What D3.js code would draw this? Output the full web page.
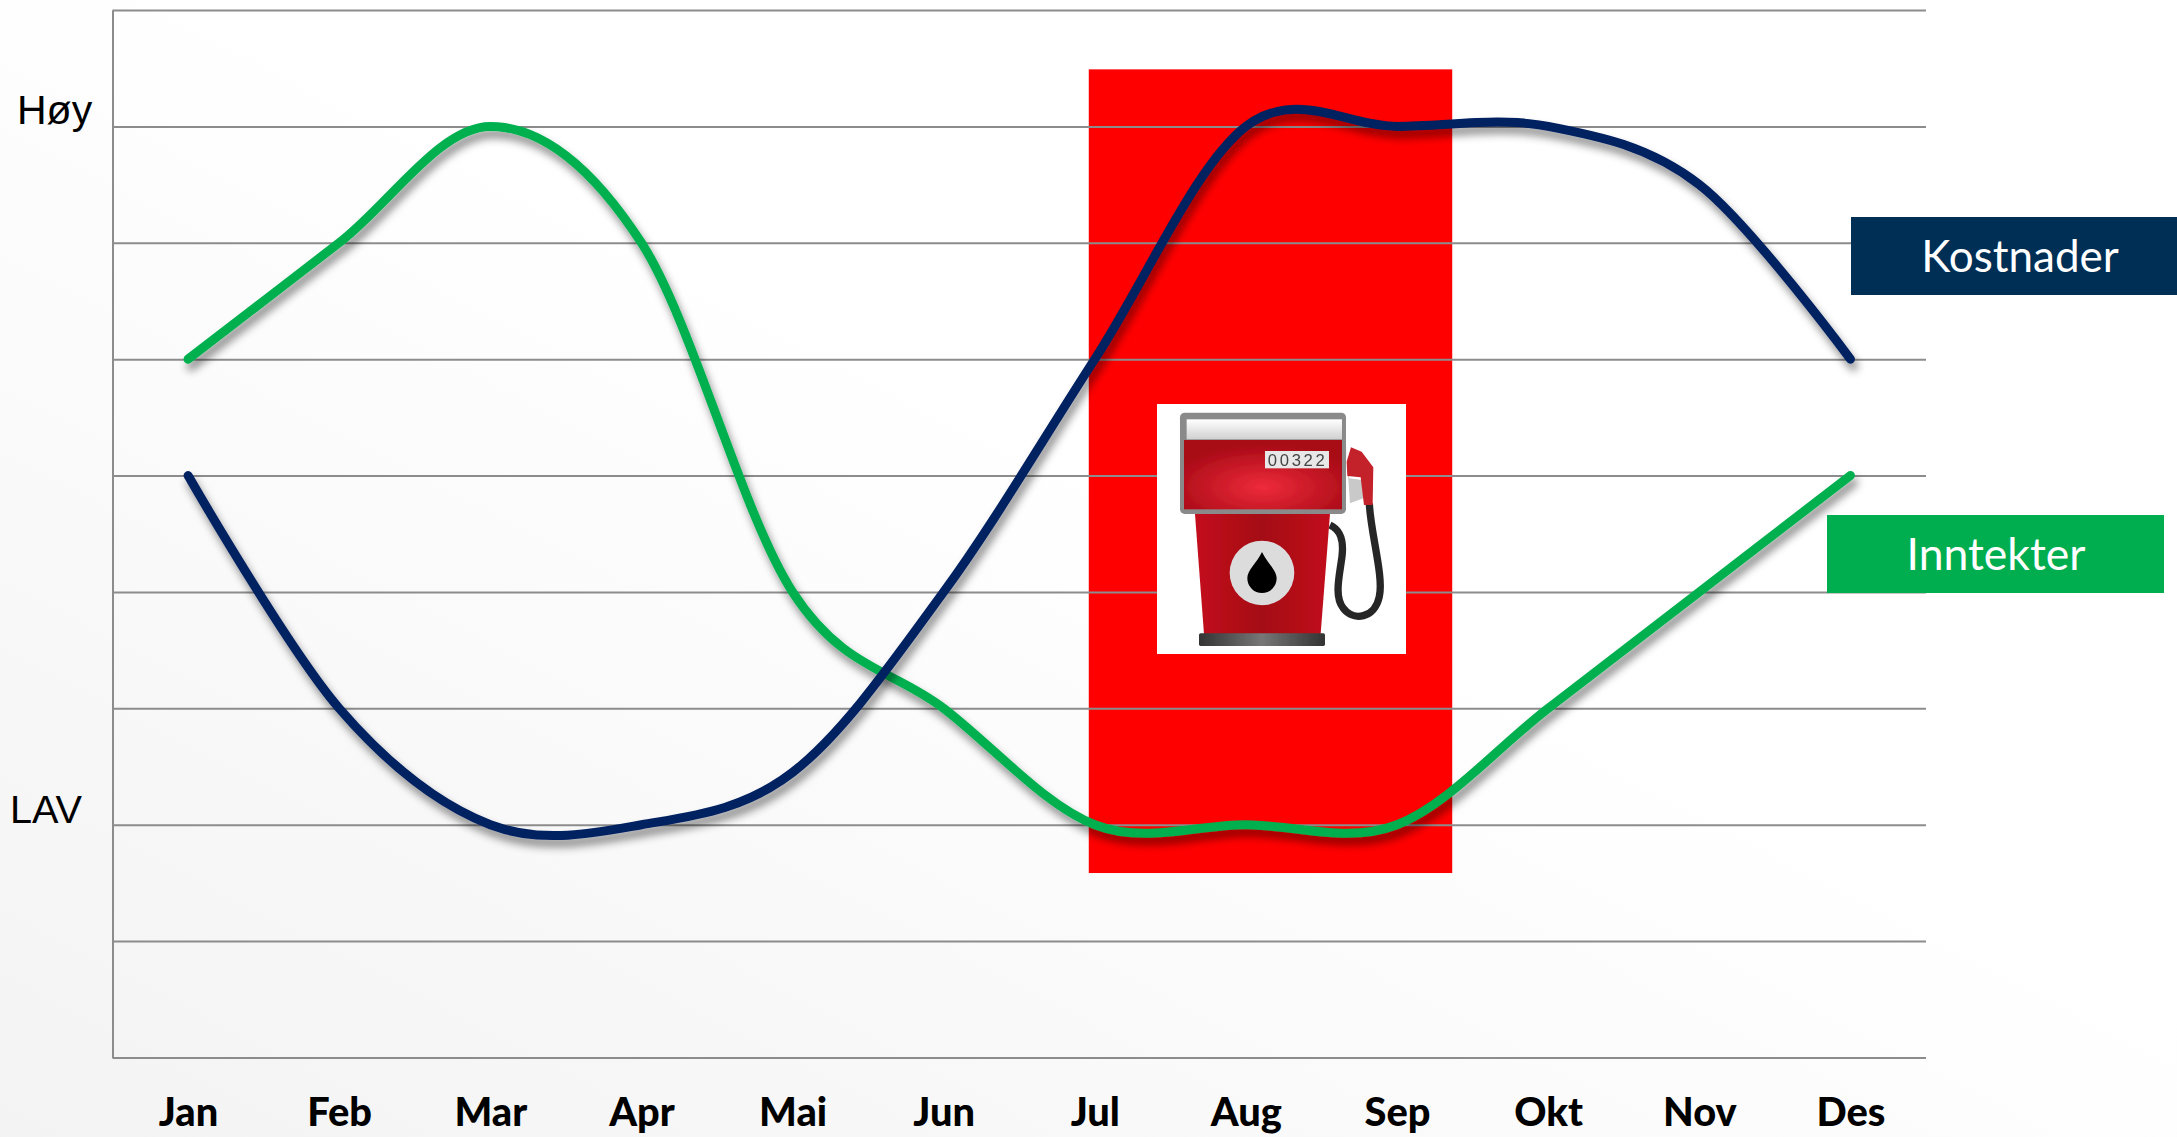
<!DOCTYPE html>
<html>
<head>
<meta charset="utf-8">
<script src="https://cdn.jsdelivr.net/npm/d3@7"></script>
<style>
html, body { margin: 0; padding: 0; background: #fff; overflow: hidden; }
svg { display: block; }
</style>
</head>
<body>
<script>
var width = 2177,
    height = 1137;

var months = ["Jan", "Feb", "Mar", "Apr", "Mai", "Jun", "Jul", "Aug", "Sep", "Okt", "Nov", "Des"];
var inntekter = [6, 7, 8, 7, 4, 3, 2, 2, 2, 3, 4, 5];
var kostnader = [5, 3, 2, 2, 2.45, 4, 6, 8, 8, 8, 7.5, 6];
var yTicks = [0, 1, 2, 3, 4, 5, 6, 7, 8, 9];
var highlight = ["Jul", "Sep"];

var plotLeft = 112.5, plotRight = 1926, plotTop = 10, plotBottom = 1057.5;

var xScale = d3.scalePoint()
    .domain(months)
    .range([plotLeft, plotRight])
    .padding(0.5);

var yScale = d3.scaleLinear()
    .domain([0, 9])
    .range([plotBottom, plotTop]);

var svg = d3.select("body")
    .append("svg")
    .attr("width", width)
    .attr("height", height);

var defs = svg.append("defs");

// page background, faint grey in the lower left corner
var bg = defs.append("linearGradient")
    .attr("id", "bg")
    .attr("x1", "0").attr("y1", "1").attr("x2", "1").attr("y2", "0");
bg.append("stop").attr("offset", "0").attr("stop-color", "#f3f3f3");
bg.append("stop").attr("offset", "0.55").attr("stop-color", "#ffffff");

var shadow = defs.append("filter")
    .attr("id", "shadow")
    .attr("filterUnits", "userSpaceOnUse")
    .attr("x", 0).attr("y", 0).attr("width", width).attr("height", height);
shadow.append("feDropShadow")
    .attr("dx", 3).attr("dy", 7)
    .attr("stdDeviation", 4)
    .attr("flood-color", "#000")
    .attr("flood-opacity", 0.45);

var soft = defs.append("filter").attr("id", "soft");
soft.append("feGaussianBlur").attr("stdDeviation", 1.5);

svg.append("rect")
    .attr("width", width)
    .attr("height", height)
    .attr("fill", "url(#bg)");

// red period behind the grid
var step = xScale.step();
svg.append("rect")
    .attr("x", xScale(highlight[0]) - 0.04 * step)
    .attr("y", yScale(8.49))
    .attr("width", xScale(highlight[1]) - xScale(highlight[0]) + 0.405 * step)
    .attr("height", yScale(1.585) - yScale(8.49))
    .attr("fill", "#ff0000");

// grid and axis lines
var yAxis = d3.axisLeft(yScale)
    .tickValues(yTicks)
    .tickSize(-(plotRight - plotLeft))
    .tickSizeOuter(0)
    .tickFormat("");

var gy = svg.append("g")
    .attr("transform", "translate(" + plotLeft + ",0)")
    .call(yAxis);
gy.selectAll("line").attr("stroke", "#8c8c8c").attr("stroke-width", 2);
gy.select(".domain").attr("stroke", "#8c8c8c").attr("stroke-width", 2);

var xAxis = d3.axisBottom(xScale).tickSize(0).tickPadding(0);
var gx = svg.append("g")
    .attr("transform", "translate(0," + plotBottom + ")")
    .call(xAxis);
gx.select(".domain").remove();
gx.selectAll("text")
    .attr("fill", "#000")
    .attr("text-anchor", "middle")
    .attr("font-family", "Lato")
    .attr("font-weight", 900)
    .attr("font-size", 39)
    .attr("dy", 0)
    .attr("y", 0)
    .attr("transform", "translate(0,68) scale(1.02,1)");

// level labels
svg.append("text")
    .attr("x", 17)
    .attr("y", yScale(8) - 2)
    .attr("font-family", "Liberation Sans")
    .attr("font-size", 41)
    .text("Høy");

svg.append("text")
    .attr("x", 10)
    .attr("y", yScale(2) - 2)
    .attr("font-family", "Liberation Sans")
    .attr("font-size", 39)
    .attr("textLength", 72)
    .attr("lengthAdjust", "spacingAndGlyphs")
    .text("LAV");

// series lines
var line = d3.line()
    .x(function(d, i) { return xScale(months[i]); })
    .y(function(d) { return yScale(d); })
    .curve(d3.curveCardinal.tension(0));

svg.append("path")
    .datum(inntekter)
    .attr("d", line)
    .attr("fill", "none")
    .attr("stroke", "#00b050")
    .attr("stroke-width", 9)
    .attr("stroke-linecap", "round")
    .attr("filter", "url(#shadow)");

svg.append("path")
    .datum(kostnader)
    .attr("d", line)
    .attr("fill", "none")
    .attr("stroke", "#002060")
    .attr("stroke-width", 9)
    .attr("stroke-linecap", "round")
    .attr("filter", "url(#shadow)");

// legend boxes
svg.append("rect")
    .attr("x", 1851).attr("y", 217)
    .attr("width", 326).attr("height", 78)
    .attr("fill", "#002f56");
svg.append("text")
    .attr("x", 2020).attr("y", 272)
    .attr("text-anchor", "middle")
    .attr("font-family", "Lato")
    .attr("font-size", 44)
    .attr("fill", "#fff")
    .text("Kostnader");

svg.append("rect")
    .attr("x", 1827).attr("y", 515)
    .attr("width", 337).attr("height", 78)
    .attr("fill", "#00ae50");
svg.append("text")
    .attr("x", 1996).attr("y", 570)
    .attr("text-anchor", "middle")
    .attr("font-family", "Lato")
    .attr("font-size", 44.5)
    .attr("fill", "#fff")
    .text("Inntekter");

// fuel pump picture
var head = defs.append("radialGradient")
    .attr("id", "pumpRed")
    .attr("cy", "0.68").attr("r", "0.62");
head.append("stop").attr("offset", "0").attr("stop-color", "#ee2b3b");
head.append("stop").attr("offset", "1").attr("stop-color", "#a80a16");

var band = defs.append("linearGradient")
    .attr("id", "pumpBand")
    .attr("x1", "0").attr("y1", "0").attr("x2", "0").attr("y2", "1");
band.append("stop").attr("offset", "0").attr("stop-color", "#ffffff");
band.append("stop").attr("offset", "1").attr("stop-color", "#d0d0d0");

var foot = defs.append("linearGradient").attr("id", "pumpFoot");
foot.append("stop").attr("offset", "0").attr("stop-color", "#333");
foot.append("stop").attr("offset", "0.5").attr("stop-color", "#777");
foot.append("stop").attr("offset", "1").attr("stop-color", "#333");

var bodyFill = defs.append("linearGradient").attr("id", "pumpBody");
bodyFill.append("stop").attr("offset", "0").attr("stop-color", "#c4101e");
bodyFill.append("stop").attr("offset", "0.5").attr("stop-color", "#a40713");
bodyFill.append("stop").attr("offset", "1").attr("stop-color", "#c2101d");

// the pump is laid out in 3x pixels, scaled down here
svg.append("rect")
    .attr("x", 1157).attr("y", 404)
    .attr("width", 249).attr("height", 250)
    .attr("fill", "#fff");

var pump = svg.append("g")
    .attr("transform", "translate(1130,390) scale(0.3333)")
    .attr("filter", "url(#soft)");

pump.append("path")
    .attr("d", "M600,405 C632,420 642,450 636,500 C628,560 612,620 640,655 C670,695 735,685 748,620 C762,560 722,430 718,340")
    .attr("fill", "none")
    .attr("stroke", "#262626")
    .attr("stroke-width", 22);

pump.append("path")
    .attr("d", "M195,372 L600,372 L572,732 L222,732 Z")
    .attr("fill", "url(#pumpBody)");

pump.append("rect")
    .attr("x", 207).attr("y", 730).attr("width", 378).attr("height", 38).attr("rx", 5)
    .attr("fill", "url(#pumpFoot)");

pump.append("circle").attr("cx", 396).attr("cy", 549).attr("r", 97).attr("fill", "#dcdcdc");
pump.append("path")
    .attr("d", "M396,486 C412,520 440,540 440,565 A44,44 0 0 1 352,565 C352,540 380,520 396,486 Z")
    .attr("fill", "#000");

pump.append("rect")
    .attr("x", 150).attr("y", 68).attr("width", 498).attr("height", 304).attr("rx", 14)
    .attr("fill", "#8a8a8a");
pump.append("rect")
    .attr("x", 170).attr("y", 88).attr("width", 466).attr("height", 60)
    .attr("fill", "url(#pumpBand)");
pump.append("rect")
    .attr("x", 162).attr("y", 150).attr("width", 474).attr("height", 208)
    .attr("fill", "url(#pumpRed)");

pump.append("rect")
    .attr("x", 405).attr("y", 183).attr("width", 192).attr("height", 52)
    .attr("fill", "#e8e8e8");
pump.append("text")
    .attr("x", 503).attr("y", 228)
    .attr("text-anchor", "middle")
    .attr("font-family", "Liberation Sans")
    .attr("font-size", 50)
    .attr("letter-spacing", 8)
    .attr("fill", "#444")
    .text("00322");

pump.append("path")
    .attr("d", "M648,165 L660,340 L700,325 L695,270 L658,265 Z")
    .attr("fill", "#c9c9c9");
pump.append("path")
    .attr("d", "M663,172 L695,185 L730,232 L728,345 L702,345 L692,262 L652,258 L650,215 Z")
    .attr("fill", "#c3202b");
</script>
</body>
</html>
